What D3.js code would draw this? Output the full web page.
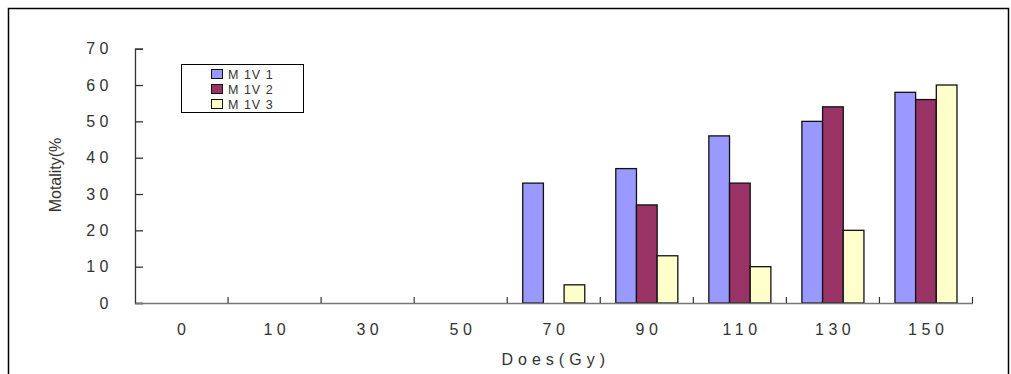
<!DOCTYPE html>
<html>
<head>
<meta charset="utf-8">
<script src="https://cdn.jsdelivr.net/npm/d3@7"></script>
<style>
  body { margin: 0; background: #fff; }
  svg { display: block; font-family: "Liberation Sans", "DejaVu Sans", sans-serif; }
</style>
</head>
<body>
<div id="chart"></div>
<script>
// Data
const doses = ["0", "10", "30", "50", "70", "90", "110", "130", "150"];
const seriesNames = ["M 1V 1", "M 1V 2", "M 1V 3"];
const m1v1 = [0, 0, 0, 0, 33, 37, 46, 50, 58];
const m1v2 = [0, 0, 0, 0, 0, 27, 33, 54, 56];
const m1v3 = [0, 0, 0, 0, 5, 13, 10, 20, 60];
const yTicks = [0, 10, 20, 30, 40, 50, 60, 70];
const colors = ["#9999ff", "#993366", "#ffffcc"];

const W = 1011, H = 374;
const plot = { left: 135, right: 972.5, top: 48.7, bottom: 303 };

const svg = d3.select("#chart").append("svg")
    .attr("width", W)
    .attr("height", H);

// outer frame (bottom edge is cut off in the picture)
svg.append("rect")
    .attr("x", 8.5).attr("y", 8.5)
    .attr("width", 1000).attr("height", 400)
    .attr("fill", "none")
    .attr("stroke", "#000")
    .attr("stroke-width", 1.5);

const x = d3.scaleBand()
    .domain(doses)
    .range([plot.left, plot.right])
    .padding(0);

const xSub = d3.scaleBand()
    .domain(seriesNames)
    .range([x.bandwidth() / 6, x.bandwidth() * 5 / 6])
    .padding(0);

const y = d3.scaleLinear()
    .domain([0, 70])
    .range([plot.bottom, plot.top]);

// bars
const allSeries = [m1v1, m1v2, m1v3];
const rows = [];
doses.forEach((d, i) => {
    seriesNames.forEach((s, j) => {
        rows.push({ dose: d, name: s, value: allSeries[j][i], color: colors[j] });
    });
});

svg.append("g").selectAll("rect")
    .data(rows.filter(r => r.value > 0))
    .enter().append("rect")
    .attr("x", d => x(d.dose) + xSub(d.name))
    .attr("y", d => y(d.value))
    .attr("width", xSub.bandwidth())
    .attr("height", d => y(0) - y(d.value))
    .attr("fill", d => d.color)
    .attr("stroke", "#111")
    .attr("stroke-width", 1.3);

// y axis, ticks pointing inward
const yAxis = svg.append("g")
    .attr("transform", "translate(" + plot.left + ",0)")
    .call(d3.axisRight(y).tickValues(yTicks).tickSize(8).tickFormat(""));
yAxis.select(".domain").attr("stroke", "#333").attr("stroke-width", 1.3);
yAxis.selectAll(".tick line").attr("stroke", "#333").attr("stroke-width", 1.3);

svg.append("g").selectAll("text")
    .data(yTicks)
    .enter().append("text")
    .attr("x", 113)
    .attr("y", d => y(d))
    .attr("dy", "0.36em")
    .attr("text-anchor", "end")
    .style("font-size", "16px")
    .style("letter-spacing", "4.5px")
    .attr("fill", "#333")
    .text(d => d);

// x axis
const xAxis = svg.append("g")
    .attr("transform", "translate(0," + plot.bottom + ")")
    .call(d3.axisBottom(x).tickSize(0).tickPadding(21));
xAxis.select(".domain").attr("stroke", "#777").attr("stroke-width", 1.3);
xAxis.selectAll(".tick text")
    .style("font-size", "16px")
    .style("letter-spacing", "4.5px")
    .style("font-family", "Liberation Sans, DejaVu Sans, sans-serif")
    .attr("dx", "2.2px")
    .attr("fill", "#333");

// category boundary ticks pointing up
const bounds = doses.map(d => x(d)).concat([plot.right]);
svg.append("g").selectAll("line")
    .data(bounds.slice(1))
    .enter().append("line")
    .attr("x1", d => d).attr("x2", d => d)
    .attr("y1", plot.bottom - 6).attr("y2", plot.bottom)
    .attr("stroke", "#333")
    .attr("stroke-width", 1.2);

// axis titles
svg.append("text")
    .attr("x", (plot.left + plot.right) / 2 + 2)
    .attr("y", 365)
    .attr("text-anchor", "middle")
    .style("font-size", "16px")
    .style("letter-spacing", "5px")
    .attr("fill", "#333")
    .text("Does(Gy)");

svg.append("text")
    .attr("transform", "translate(61,175) rotate(-90)")
    .attr("text-anchor", "middle")
    .style("font-size", "16px")
    .attr("fill", "#333")
    .text("Motality(%");

// legend
const legend = svg.append("g").attr("transform", "translate(181,64)");
legend.append("rect")
    .attr("x", 0.5).attr("y", 0.5)
    .attr("width", 122).attr("height", 48)
    .attr("fill", "#fff")
    .attr("stroke", "#000");

const items = legend.selectAll(".item")
    .data(seriesNames)
    .enter().append("g")
    .attr("class", "item")
    .attr("transform", (d, i) => "translate(30," + (10 + i * 15) + ")");

items.append("rect")
    .attr("x", 0.5).attr("y", -4.5)
    .attr("width", 11).attr("height", 9)
    .attr("fill", (d, i) => colors[i])
    .attr("stroke", "#111");

items.append("text")
    .attr("x", 17)
    .attr("dy", "0.36em")
    .style("font-size", "12.5px")
    .style("letter-spacing", "1px")
    .attr("fill", "#333")
    .text(d => d);
</script>
</body>
</html>
